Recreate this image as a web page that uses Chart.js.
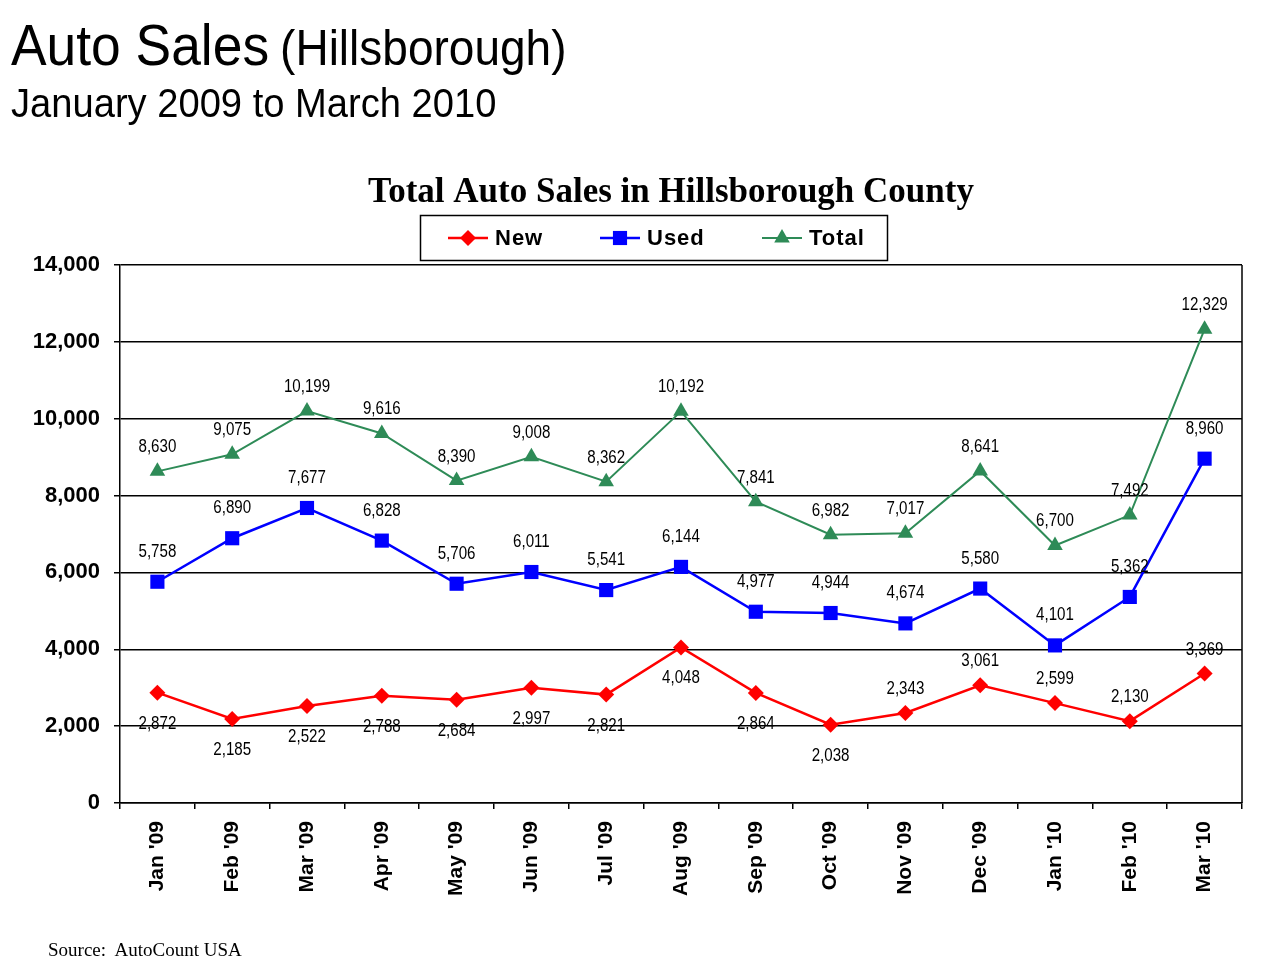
<!DOCTYPE html>
<html>
<head>
<meta charset="utf-8">
<title>Auto Sales (Hillsborough)</title>
<script src="https://cdn.jsdelivr.net/npm/chart.js@4.4.1/dist/chart.umd.min.js"></script>
<style>
    html, body { margin: 0; padding: 0; background: #fff; }
    #wrap { position: relative; width: 1282px; height: 962px; overflow: hidden; }
    #chart { position: absolute; left: 0; top: 0; }
    .txt { position: absolute; white-space: nowrap; color: #000; line-height: 1; transform-origin: 0 0; }
    #h1 { left: 11px; top: 16px; font-family: 'Liberation Sans', Arial, sans-serif; transform: scaleX(0.92); }
    #h1 .big { font-size: 58px; }
    #h1 .mid { font-size: 50px; margin-left: 12px; }
    #h2 { left: 11px; top: 83px; font-family: 'Liberation Sans', Arial, sans-serif; font-size: 41px; transform: scaleX(0.93); }
    #src { left: 48px; top: 940px; font-family: 'Liberation Serif', 'Times New Roman', serif; font-size: 19px; }
</style>
</head>
<body>
<div id="wrap">
    <canvas id="chart" width="1282" height="962"></canvas>
    <div class="txt" id="h1"><span class="big">Auto Sales</span><span class="mid">(Hillsborough)</span></div>
    <div class="txt" id="h2">January 2009 to March 2010</div>
    <div class="txt" id="src">Source:&nbsp; AutoCount USA</div>
</div>
<script>
// 数据
const months = ["Jan '09", "Feb '09", "Mar '09", "Apr '09", "May '09", "Jun '09", "Jul '09", "Aug '09",
    "Sep '09", "Oct '09", "Nov '09", "Dec '09", "Jan '10", "Feb '10", "Mar '10"];
const newSales = [2872, 2185, 2522, 2788, 2684, 2997, 2821, 4048, 2864, 2038, 2343, 3061, 2599, 2130, 3369];
const usedSales = [5758, 6890, 7677, 6828, 5706, 6011, 5541, 6144, 4977, 4944, 4674, 5580, 4101, 5362, 8960];
const totalSales = [8630, 9075, 10199, 9616, 8390, 9008, 8362, 10192, 7841, 6982, 7017, 8641, 6700, 7492, 12329];
const yTicks = [0, 2000, 4000, 6000, 8000, 10000, 12000, 14000];

// 数据标签在点的上方(a)或下方(b)
const newLabelSide = ['b', 'b', 'b', 'b', 'b', 'b', 'b', 'b', 'b', 'b', 'a', 'a', 'a', 'a', 'a'];

// 数据标签 (窄体字, 横向压缩)
const pointLabels = {
    id: 'pointLabels',
    afterDatasetsDraw(chart) {
        const ctx = chart.ctx;
        ctx.save();
        ctx.font = '18px "Liberation Sans", Arial, sans-serif';
        ctx.fillStyle = '#000';
        ctx.textAlign = 'center';
        ctx.textBaseline = 'middle';
        chart.data.datasets.forEach((ds, i) => {
            const meta = chart.getDatasetMeta(i);
            meta.data.forEach((pt, j) => {
                const below = ds.labelSide && ds.labelSide[j] === 'b';
                const dy = below ? ds.labelBelow : -ds.labelAbove;
                ctx.save();
                ctx.translate(pt.x, pt.y + dy);
                ctx.scale(0.84, 1);
                ctx.fillText(ds.data[j].toLocaleString('en-US'), 0, 0);
                ctx.restore();
            });
        });
        ctx.restore();
    }
};

// 标题、图例框、右边框
const decorations = {
    id: 'decorations',
    afterDraw(chart) {
        const ctx = chart.ctx;
        const area = chart.chartArea;
        ctx.save();

        // 右边框
        ctx.strokeStyle = '#000';
        ctx.lineWidth = 1.5;
        ctx.beginPath();
        ctx.moveTo(area.right, area.top);
        ctx.lineTo(area.right, area.bottom);
        ctx.stroke();

        // 图表标题
        ctx.fillStyle = '#000';
        ctx.font = 'bold 35px "Liberation Serif", "Times New Roman", serif';
        ctx.textAlign = 'center';
        ctx.textBaseline = 'alphabetic';
        ctx.fillText('Total Auto Sales in Hillsborough County', 671, 202);

        // 图例
        ctx.lineWidth = 1.5;
        ctx.strokeRect(420.5, 215.5, 467, 45);
        const xs = [448, 600, 762];
        const y = 238;
        ctx.font = 'bold 22px "Liberation Sans", Arial, sans-serif';
        ctx.letterSpacing = '1px';
        ctx.textAlign = 'left';
        ctx.textBaseline = 'middle';
        chart.data.datasets.forEach((ds, i) => {
            const x = xs[i];
            ctx.strokeStyle = ds.borderColor;
            ctx.lineWidth = ds.borderWidth;
            ctx.beginPath();
            ctx.moveTo(x, y);
            ctx.lineTo(x + 40, y);
            ctx.stroke();
            ctx.fillStyle = ds.pointBackgroundColor;
            Chart.helpers.drawPoint(ctx, {
                pointStyle: ds.pointStyle,
                radius: ds.pointRadius,
                rotation: 0,
                borderWidth: 0
            }, x + 20, y);
            ctx.fillStyle = '#000';
            ctx.fillText(ds.label, x + 47, y + 1);
        });
        ctx.restore();
    }
};

const ctx = document.getElementById('chart').getContext('2d');
new Chart(ctx, {
    type: 'line',
    data: {
        labels: months,
        datasets: [{
            label: 'New',
            data: newSales,
            borderColor: '#ff0000',
            backgroundColor: '#ff0000',
            pointBackgroundColor: '#ff0000',
            pointBorderWidth: 0,
            borderWidth: 2.5,
            pointStyle: 'rectRot',
            pointRadius: 8,
            tension: 0,
            labelSide: newLabelSide,
            labelAbove: 24,
            labelBelow: 31
        }, {
            label: 'Used',
            data: usedSales,
            borderColor: '#0000ff',
            backgroundColor: '#0000ff',
            pointBackgroundColor: '#0000ff',
            pointBorderWidth: 0,
            borderWidth: 2.5,
            pointStyle: 'rect',
            pointRadius: 10,
            tension: 0,
            labelAbove: 30
        }, {
            label: 'Total',
            data: totalSales,
            borderColor: '#2e8b57',
            backgroundColor: '#2e8b57',
            pointBackgroundColor: '#2e8b57',
            pointBorderWidth: 0,
            borderWidth: 2,
            pointStyle: 'triangle',
            pointRadius: 9,
            tension: 0,
            labelAbove: 24
        }]
    },
    options: {
        responsive: false,
        animation: false,
        events: [],
        layout: {
            padding: { left: 0, right: 40, top: 265, bottom: 0 }
        },
        plugins: {
            legend: { display: false },
            title: { display: false },
            tooltip: { enabled: false }
        },
        scales: {
            x: {
                offset: true,
                grid: {
                    offset: true,
                    drawOnChartArea: false,
                    drawTicks: true,
                    tickLength: 6,
                    color: '#000',
                    lineWidth: 1.5
                },
                border: { color: '#000', width: 1.5 },
                ticks: {
                    autoSkip: false,
                    maxRotation: 90,
                    minRotation: 90,
                    padding: 12,
                    color: '#000',
                    font: { family: '"Liberation Sans", Arial, sans-serif', size: 21, weight: 'bold' }
                },
                afterFit(scale) { scale.height = 159; }
            },
            y: {
                min: 0,
                max: 14000,
                afterBuildTicks(scale) { scale.ticks = yTicks.map(v => ({ value: v })); },
                grid: {
                    drawTicks: true,
                    tickLength: 6,
                    color: '#000',
                    lineWidth: 1.5
                },
                border: { color: '#000', width: 1.5 },
                ticks: {
                    padding: 14,
                    color: '#000',
                    font: { family: '"Liberation Sans", Arial, sans-serif', size: 22, weight: 'bold' },
                    callback: v => v.toLocaleString('en-US')
                },
                afterFit(scale) { scale.width = 120; }
            }
        }
    },
    plugins: [pointLabels, decorations]
});
</script>
</body>
</html>
